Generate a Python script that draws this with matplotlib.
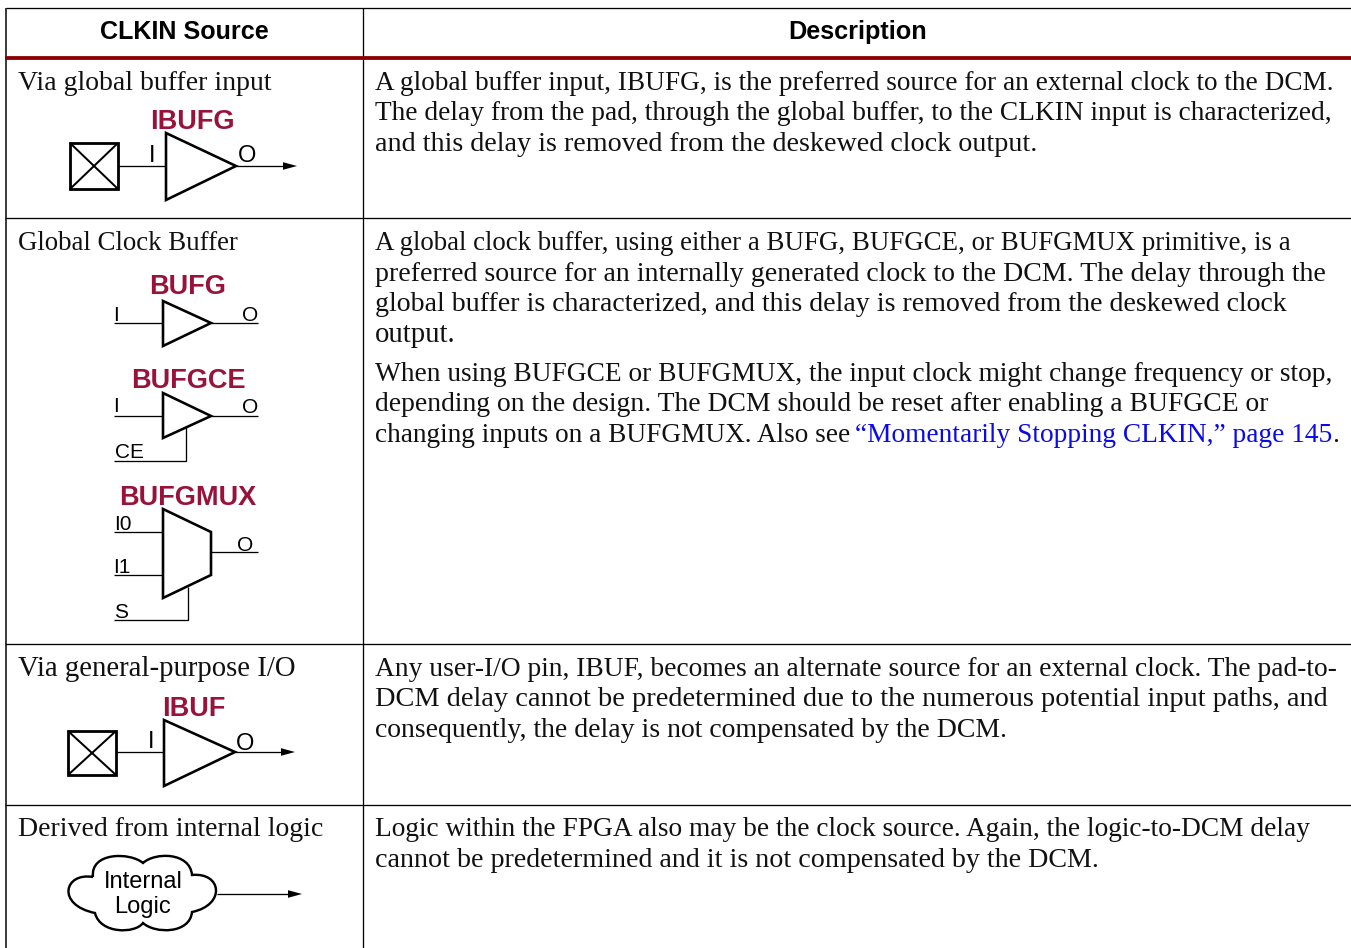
import matplotlib
matplotlib.use("Agg")
import matplotlib.pyplot as plt
from matplotlib.patches import Polygon, PathPatch, Rectangle
from matplotlib.path import Path

# ---- content ----
headers = ["CLKIN Source", "Description"]
sources = ["Via global buffer input", "Global Clock Buffer",
           "Via general-purpose I/O", "Derived from internal logic"]
desc_lines = [
    "A global buffer input, IBUFG, is the preferred source for an external clock to the DCM.",
    "The delay from the pad, through the global buffer, to the CLKIN input is characterized,",
    "and this delay is removed from the deskewed clock output.",
    "A global clock buffer, using either a BUFG, BUFGCE, or BUFGMUX primitive, is a",
    "preferred source for an internally generated clock to the DCM. The delay through the",
    "global buffer is characterized, and this delay is removed from the deskewed clock",
    "output.",
    "When using BUFGCE or BUFGMUX, the input clock might change frequency or stop,",
    "depending on the design. The DCM should be reset after enabling a BUFGCE or",
    "changing inputs on a BUFGMUX. Also see",
    "Any user-I/O pin, IBUF, becomes an alternate source for an external clock. The pad-to-",
    "DCM delay cannot be predetermined due to the numerous potential input paths, and",
    "consequently, the delay is not compensated by the DCM.",
    "Logic within the FPGA also may be the clock source. Again, the logic-to-DCM delay",
    "cannot be predetermined and it is not compensated by the DCM.",
]
link_text = "“Momentarily Stopping CLKIN,” page 145"

# ---- layout (pixels) ----
desc_base = [90, 120, 151, 250, 281, 311, 342, 381, 411, 442, 676, 706, 737, 836, 867]
desc_right = [1333, 1334, 1038, 1292, 1327, 1286, 456, 1331, 1270, 849, 1339, 1328, 1009, 1313, 1099]
src_base = [90, 250, 676, 836]
src_right = [271, 239, 296, 323]
RED = "#8B0000"
TITLE = "#981239"
INK = "#111111"
SERIF = "Liberation Serif"
SANS = "Liberation Sans"
PX = 0.72

fig = plt.figure(figsize=(13.51, 9.48), dpi=100, facecolor="white")
ax = fig.add_axes([0, 0, 1, 1])
ax.set_xlim(0, 1351)
ax.set_ylim(948, 0)
ax.axis("off")
rend = fig.canvas.get_renderer()


def fit(x, y, s, width, size=19.0, family=SERIF, **kw):
    t = ax.text(x, y, s, family=family, fontsize=size, va="baseline", ha="left", **kw)
    w = t.get_window_extent(rend).width
    t.set_fontsize(size * width / w)
    return t


def ctext(x, y, s, size, color="black", weight="normal"):
    ax.text(x, y + 1.5, s, family=SANS, fontsize=size, color=color, weight=weight,
            ha="center", va="center")


def line(xs, ys, w=1.3, c="black"):
    ax.plot(xs, ys, color=c, lw=w * PX, solid_capstyle="butt", solid_joinstyle="miter")


def shape(pts, w=2.6):
    ax.add_patch(Polygon(pts, closed=True, fc="white", ec="black", lw=w * PX, joinstyle="miter"))


def arrow(x0, x1, y):
    line([x0, x1 - 8], [y, y])
    ax.add_patch(Polygon([(x1 - 14, y - 3.8), (x1, y), (x1 - 14, y + 3.8)], closed=True,
                         fc="black", ec="none"))


def pad(x0, x1, y0, y1):
    ax.add_patch(Rectangle((x0, y0), x1 - x0, y1 - y0, fc="white", ec="black", lw=2.8 * PX))
    line([x0, x1], [y0, y1], 2.0)
    line([x0, x1], [y1, y0], 2.0)


# ---- table rules ----
line([6, 1351], [8.0, 8.0])
line([6, 6], [8, 948], 1.5)
line([363, 363], [8, 948], 1.3)
for yy in (217.5, 643.5, 804.5):
    line([5, 1351], [yy, yy])
line([5, 1351], [58, 58], 3.8, RED)

# ---- headers ----
fit(100, 39, headers[0], 169, 18, SANS, weight="bold", color="black")
fit(788, 39, headers[1], 139, 18, SANS, weight="bold", color="black")

# ---- text ----
for s, b, r in zip(sources, src_base, src_right):
    fit(18, b, s, r - 18, color=INK)
for s, b, r in zip(desc_lines, desc_base, desc_right):
    fit(375, b, s, r - 375, color=INK)
fit(855, 442, link_text, 478, color="#0A0AE8")
ax.text(1332, 442, ".", family=SERIF, fontsize=20, color=INK, va="baseline", ha="left")

# ---- IBUFG ----
ctext(192, 120, "IBUFG", 19.5, TITLE, "bold")
pad(70, 118, 143, 189)
line([118, 166], [166, 166])
arrow(236, 297, 166)
shape([(166, 133), (166, 200), (236, 166)])
ctext(152, 154, "I", 17)
ctext(247, 154, "O", 17)

# ---- BUFG ----
ctext(188, 286, "BUFG", 19.5, TITLE, "bold")
line([114, 163], [323, 323])
line([211, 258], [323, 323])
shape([(163, 301), (163, 346), (211, 323)])
ctext(116, 314, "I", 15)
ctext(250, 314, "O", 15)

# ---- BUFGCE ----
ctext(188, 380, "BUFGCE", 19.5, TITLE, "bold")
line([114, 163], [416, 416])
line([211, 258], [416, 416])
line([186, 186, 114], [427, 460.5, 460.5])
shape([(163, 393), (163, 438), (211, 416)])
ctext(116, 405, "I", 15)
ctext(250, 406, "O", 15)
ctext(129, 451, "CE", 15)

# ---- BUFGMUX ----
ctext(188, 496, "BUFGMUX", 19.5, TITLE, "bold")
line([114, 163], [532, 532])
line([114, 163], [575, 575])
line([211, 258], [552, 552])
line([188, 188, 114], [587, 620, 620])
shape([(163, 509), (211, 532), (211, 575), (163, 598)])
ctext(123, 523, "I0", 15)
ctext(122, 566, "I1", 15)
ctext(121, 611, "S", 15)
ctext(245, 544, "O", 15)

# ---- IBUF ----
ctext(194, 707, "IBUF", 19.5, TITLE, "bold")
pad(68, 116, 731, 775)
line([116, 164], [752, 752])
arrow(235, 295, 752)
shape([(164, 720), (164, 786), (235, 752)])
ctext(151, 741, "I", 17)
ctext(245, 742, "O", 17)

# ---- cloud ----
V = [(93, 877), (64, 872), (56, 905), (95, 913),
     (100, 934), (135, 934), (143, 923),
     (155, 934), (190, 934), (192, 912),
     (226, 905), (222, 872), (192, 875),
     (190, 852), (155, 852), (143, 863),
     (130, 852), (90, 852), (93, 877)]
C = [Path.MOVETO] + [Path.CURVE4] * 18
ax.add_patch(PathPatch(Path(V, C), fc="white", ec="black", lw=2.4 * PX))
arrow(217, 302, 894)
ctext(143, 880, "Internal", 17)
ctext(143, 905, "Logic", 17)

fig.savefig("out.png", dpi=100)
